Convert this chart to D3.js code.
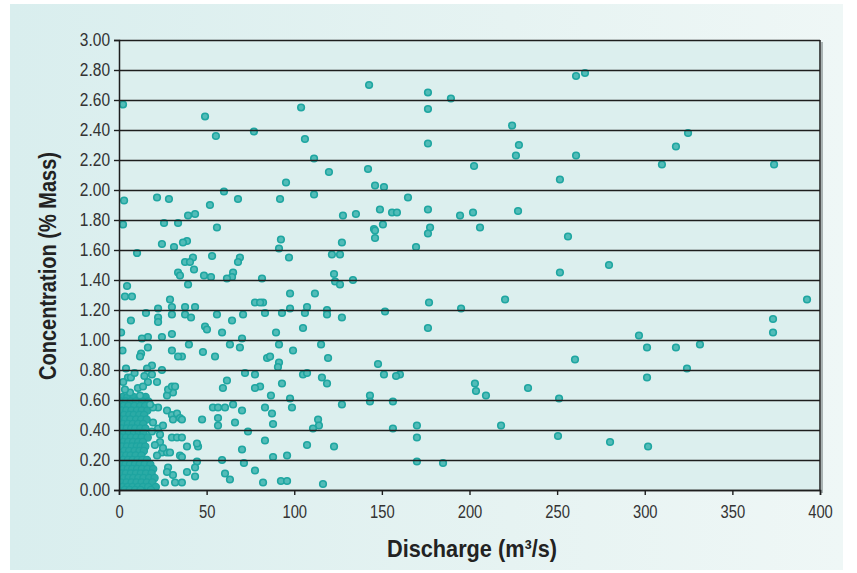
<!DOCTYPE html>
<html>
<head>
<meta charset="utf-8">
<script src="https://cdn.jsdelivr.net/npm/d3@7"></script>
<style>
  html, body { margin: 0; padding: 0; background: #ffffff; }
  svg { display: block; }
</style>
</head>
<body>
<svg id="chart" width="857" height="573"></svg>
<script>
// ---- data ----
const xTicks = [0, 50, 100, 150, 200, 250, 300, 350, 400];
const yTicks = [0, 0.2, 0.4, 0.6, 0.8, 1.0, 1.2, 1.4, 1.6, 1.8, 2.0, 2.2, 2.4, 2.6, 2.8, 3.0];
const xLabel = "Discharge (m\u00B3/s)";
const yLabel = "Concentration (% Mass)";

// scattered samples [discharge m3/s, concentration % mass]
const scattered = [
  [2.3,2.57],[49.1,2.49],[55.3,2.36],[77.0,2.39],[103.9,2.55],[106.1,2.34],[111.3,2.21],[119.8,2.12],
  [95.3,2.05],[142.7,2.70],[142.1,2.14],[146.1,2.03],[151.2,2.02],[59.9,1.99],[67.9,1.94],[51.9,1.90],
  [2.9,1.93],[21.7,1.95],[28.5,1.94],[91.9,1.94],[111.3,1.97],[164.9,1.95],[25.7,1.78],[33.7,1.78],
  [39.4,1.83],[43.4,1.84],[127.8,1.83],[135.2,1.84],[148.9,1.87],[155.8,1.85],[158.6,1.85],[150.6,1.77],
  [145.5,1.74],[55.9,1.75],[2.3,1.77],[176.3,2.65],[176.3,2.54],[189.4,2.61],[260.8,2.76],[265.9,2.78],
  [224.3,2.43],[228.2,2.30],[226.5,2.23],[260.8,2.23],[176.3,2.31],[202.6,2.16],[251.6,2.07],[324.7,2.38],
  [317.8,2.29],[309.8,2.17],[373.8,2.17],[176.3,1.87],[194.6,1.83],[202.0,1.85],[227.7,1.86],[177.5,1.75],
  [206.0,1.75],[176.3,1.71],[169.5,1.62],[256.2,1.69],[279.6,1.50],[251.6,1.45],[176.9,1.25],[195.2,1.21],
  [220.3,1.27],[392.6,1.27],[176.3,1.08],[296.7,1.03],[301.3,0.95],[317.8,0.95],[331.5,0.97],[373.2,1.14],
  [373.2,1.05],[260.2,0.87],[324.1,0.81],[301.3,0.75],[203.1,0.71],[233.4,0.68],[160.3,0.77],[203.7,0.66],
  [209.4,0.63],[251.1,0.61],[170.0,0.43],[170.0,0.35],[218.0,0.43],[250.5,0.36],[280.2,0.32],[301.9,0.29],
  [170.0,0.19],[184.9,0.18],
  [84.5,0.88],[91.3,0.85],[90.7,0.82],[119.3,0.88],[147.8,0.84],[151.2,0.77],[158.1,0.76],[105.0,0.77],
  [107.3,0.78],[115.8,0.75],[118.7,0.71],[93.0,0.71],[80.5,0.69],[86.7,0.63],[97.6,0.61],[127.2,0.57],
  [143.2,0.63],[143.2,0.59],[156.3,0.59],[83.3,0.55],[87.3,0.51],[98.7,0.55],[87.9,0.44],[113.6,0.47],
  [114.1,0.43],[110.7,0.41],[156.3,0.41],[83.3,0.33],[107.3,0.30],[122.7,0.29],[87.9,0.22],[95.9,0.23],
  [92.4,0.06],[95.9,0.06],[116.4,0.04],
  [146.1,1.73],[146.1,1.68],[92.4,1.67],[91.3,1.61],[127.2,1.65],[126.1,1.57],[121.5,1.57],[97.0,1.55],
  [81.6,1.41],[122.7,1.44],[123.3,1.39],[126.1,1.37],[133.5,1.40],[97.6,1.31],[111.8,1.31],[82.2,1.25],
  [83.3,1.18],[93.0,1.18],[97.6,1.21],[107.3,1.22],[106.1,1.18],[118.7,1.20],[118.7,1.17],[127.2,1.15],
  [151.8,1.19],[105.0,1.08],[89.6,1.05],[91.3,0.97],[99.3,0.93],[115.3,0.97],[86.2,0.89],
  [38.8,1.66],[36.5,1.65],[24.5,1.64],[31.4,1.62],[10.3,1.58],[37.7,1.52],[42.2,1.55],[40.5,1.52],
  [42.8,1.47],[33.7,1.45],[34.8,1.43],[53.1,1.56],[69.0,1.55],[67.9,1.52],[65.1,1.45],[64.5,1.42],
  [61.6,1.41],[48.5,1.43],[52.5,1.42],[39.4,1.37],[4.6,1.36],[3.4,1.29],[7.4,1.29],[29.1,1.27],
  [30.2,1.22],[22.3,1.21],[15.4,1.18],[37.7,1.22],[43.4,1.22],[37.7,1.17],[41.1,1.15],[30.2,1.17],
  [22.3,1.15],[22.3,1.12],[6.8,1.13],[55.9,1.17],[64.5,1.13],[70.8,1.17],[77.6,1.25],[80.5,1.25],
  [49.1,1.09],[50.2,1.07],[58.8,1.05],[30.2,1.04],[24.5,1.02],[16.5,1.02],[13.1,1.01],[70.2,1.01],
  [39.9,0.97],[47.9,0.92],[30.2,0.93],[35.9,0.89],[16.5,0.95],[12.6,0.91],[63.3,0.97],[69.0,0.95],
  [54.8,0.89],[2.0,0.93],[1.2,1.05],
  [71.9,0.78],[77.6,0.77],[61.6,0.73],[59.3,0.68],[77.6,0.68],[65.1,0.57],[70.2,0.53],[53.6,0.55],
  [56.5,0.55],[60.5,0.55],[47.4,0.47],[56.5,0.48],[56.5,0.43],[66.2,0.45],[73.6,0.39],[45.1,0.29],
  [44.5,0.31],[38.8,0.29],[70.2,0.27],[58.8,0.20],[44.5,0.19],[43.4,0.15],[38.8,0.12],[43.4,0.09],
  [71.3,0.18],[77.6,0.13],[60.5,0.11],[63.3,0.07],[82.2,0.05],[35.9,0.05],[28.0,0.15],[30.8,0.10],
  [27.4,0.12],[26.2,0.05],[32.0,0.05],[30.8,0.65],[27.4,0.63],[28.0,0.67],[30.2,0.69],[32.0,0.69],
  [27.4,0.53],[30.2,0.50],[33.1,0.51],[34.8,0.48],[30.8,0.47],[35.9,0.47],[30.2,0.35],[33.1,0.35],
  [35.9,0.35],[23.4,0.37],[23.4,0.32],[24.5,0.25],[27.4,0.25],[29.1,0.25],[25.1,0.28],[20.5,0.30],
  [21.7,0.23],[34.8,0.23],[35.9,0.22],[18.8,0.77],[21.7,0.72],[16.5,0.72],[24.5,0.80],[18.8,0.83],
  [16.0,0.81],[12.0,0.89],[33.7,0.89],[22.3,0.55],[19.4,0.55],[17.7,0.57],[19.4,0.45],[22.3,0.41],
  [18.8,0.39],[25.1,0.43],[5.1,0.75],[6.8,0.75],[10.8,0.68],[13.7,0.69],[12.0,0.63],[6.3,0.65],[3.4,0.67],
  [2.4,0.72],[8.9,0.78],[4.0,0.81],[14.5,0.76]
];

// dense low-discharge cluster near the origin
const cluster = [
  [2.1,0.62],[4.8,0.62],[8.3,0.62],[11.9,0.62],[15.2,0.62],
  [1.2,0.59],[3.9,0.59],[6.7,0.59],[9.6,0.59],[13.4,0.59],[16.8,0.59],
  [2.6,0.56],[5.4,0.56],[8.8,0.56],[12.1,0.56],[14.9,0.56],
  [1.4,0.53],[4.2,0.53],[7.1,0.53],[10.3,0.53],[13.0,0.53],[16.2,0.53],
  [2.9,0.50],[5.9,0.50],[8.4,0.50],[11.6,0.50],[14.3,0.50],
  [1.1,0.47],[3.6,0.47],[6.5,0.47],[9.8,0.47],[12.7,0.47],[15.8,0.47],
  [2.3,0.44],[5.1,0.44],[7.9,0.44],[10.9,0.44],[13.8,0.44],
  [1.5,0.41],[4.4,0.41],[7.0,0.41],[9.3,0.41],[12.2,0.41],[15.1,0.41],
  [2.8,0.38],[5.6,0.38],[8.6,0.38],[11.3,0.38],[14.0,0.38],
  [1.2,0.35],[4.0,0.35],[6.9,0.35],[9.9,0.35],[12.9,0.35],[16.4,0.35],
  [2.5,0.32],[5.3,0.32],[8.1,0.32],[11.0,0.32],[13.6,0.32],
  [1.6,0.29],[4.6,0.29],[7.4,0.29],[10.2,0.29],[12.4,0.29],[15.0,0.29],
  [3.0,0.26],[5.8,0.26],[8.9,0.26],[11.7,0.26],[14.2,0.26],
  [1.3,0.23],[4.1,0.23],[6.6,0.23],[9.5,0.23],[12.8,0.23],
  [2.4,0.20],[5.2,0.20],[7.8,0.20],[10.6,0.20],[13.3,0.20],[16.0,0.20],
  [1.0,0.17],[3.7,0.17],[6.3,0.17],[9.1,0.17],[11.8,0.17],[14.6,0.17],[17.9,0.17],
  [2.2,0.14],[5.0,0.14],[7.6,0.14],[10.4,0.14],[13.1,0.14],[16.3,0.14],[19.5,0.14],
  [1.4,0.11],[3.9,0.11],[6.8,0.11],[9.7,0.11],[12.5,0.11],[15.4,0.11],[18.6,0.11],
  [2.7,0.08],[5.5,0.08],[8.2,0.08],[11.1,0.08],[14.0,0.08],[17.2,0.08],[20.3,0.08],
  [1.1,0.05],[4.3,0.05],[7.2,0.05],[10.0,0.05],[12.9,0.05],[15.9,0.05],[19.0,0.05],
  [2.0,0.02],[4.9,0.02],[7.7,0.02],[10.8,0.02],[13.7,0.02],[16.7,0.02],[21.0,0.02],
  [3.3,0.00],[6.1,0.00],[9.2,0.00],[12.3,0.00],[18.2,0.00]
];

// ---- drawing ----
const svg = d3.select("#chart");
const plot = {left: 119, right: 820, top: 40, bottom: 490};
const x = d3.scaleLinear().domain([0, 400]).range([plot.left, plot.right]);
const y = d3.scaleLinear().domain([0, 3]).range([plot.bottom, plot.top]);
const FONT = "'Liberation Sans', Arial, Helvetica, sans-serif";

// horizontally condense a text element to mimic a narrow typeface
function condense(sel, ratio) {
  sel.each(function() {
    const w = this.getComputedTextLength();
    d3.select(this).attr("textLength", w * ratio).attr("lengthAdjust", "spacingAndGlyphs");
  });
}

const defs = svg.append("defs");
const grad = defs.append("linearGradient").attr("id", "panelGrad")
  .attr("x1", "0%").attr("x2", "100%").attr("y1", "0%").attr("y2", "0%");
grad.append("stop").attr("offset", "0%").attr("stop-color", "#d9eeee");
grad.append("stop").attr("offset", "60%").attr("stop-color", "#e6f3f2");
grad.append("stop").attr("offset", "100%").attr("stop-color", "#eff7f6");
defs.append("clipPath").attr("id", "plotClip").append("rect")
  .attr("x", plot.left).attr("y", plot.top - 1)
  .attr("width", plot.right - plot.left).attr("height", plot.bottom - plot.top + 1);

svg.append("rect").attr("x", 10).attr("y", 4).attr("width", 833).attr("height", 566)
  .attr("fill", "url(#panelGrad)");

svg.append("rect").attr("x", plot.left).attr("y", plot.top)
  .attr("width", plot.right - plot.left).attr("height", plot.bottom - plot.top)
  .attr("fill", "#dcefee");

// points
const pts = svg.append("g").attr("clip-path", "url(#plotClip)");
pts.selectAll("circle.c").data(cluster).join("circle").attr("class", "c")
  .attr("cx", d => x(d[0])).attr("cy", d => y(d[1])).attr("r", 3.6)
  .attr("fill", "#2aaaa5").attr("stroke", "#1ea4a0").attr("stroke-width", 1.2);
pts.selectAll("circle.s").data(scattered).join("circle").attr("class", "s")
  .attr("cx", d => x(d[0])).attr("cy", d => y(d[1])).attr("r", 3.3)
  .attr("fill", "#52bcb8").attr("stroke", "#1fa6a1").attr("stroke-width", 1.6);

// grid lines
svg.append("g").attr("transform", `translate(${plot.left},0)`)
  .call(d3.axisLeft(y).tickValues(yTicks).tickSize(-(plot.right - plot.left)).tickFormat(""))
  .call(g => g.select(".domain").remove())
  .call(g => g.selectAll(".tick line").attr("stroke", "#1e1e1e").attr("stroke-width", 1.4));

// right border with shadow
svg.append("line").attr("x1", plot.right + 2).attr("x2", plot.right + 2)
  .attr("y1", plot.top + 2).attr("y2", plot.bottom + 3).attr("stroke", "#a9b3b3").attr("stroke-width", 2);
svg.append("line").attr("x1", plot.right).attr("x2", plot.right)
  .attr("y1", plot.top).attr("y2", plot.bottom).attr("stroke", "#1e1e1e").attr("stroke-width", 1.5);

// y axis
svg.append("g").attr("transform", `translate(${plot.left},0)`)
  .call(d3.axisLeft(y).tickValues(yTicks).tickSize(5).tickPadding(4).tickFormat(d3.format(".2f")))
  .call(g => g.select(".domain").attr("stroke", "#1e1e1e").attr("stroke-width", 1.5))
  .call(g => g.selectAll(".tick line").attr("stroke", "#1e1e1e").attr("stroke-width", 1.4))
  .call(g => g.selectAll(".tick text").attr("fill", "#333").attr("font-size", 18).attr("font-family", FONT))
  .call(g => condense(g.selectAll(".tick text"), 0.86));

// x axis
svg.append("g").attr("transform", `translate(0,${plot.bottom})`)
  .call(d3.axisBottom(x).tickValues(xTicks).tickSize(5).tickPadding(10).tickFormat(d3.format("d")))
  .call(g => g.select(".domain").attr("stroke", "#1e1e1e").attr("stroke-width", 1.5))
  .call(g => g.selectAll(".tick line").attr("stroke", "#1e1e1e").attr("stroke-width", 1.4))
  .call(g => g.selectAll(".tick text").attr("fill", "#333").attr("font-size", 18).attr("font-family", FONT))
  .call(g => condense(g.selectAll(".tick text"), 0.82));

// titles
svg.append("text").attr("x", 472).attr("y", 557).attr("text-anchor", "middle")
  .attr("font-family", FONT).attr("font-weight", "bold")
  .attr("font-size", 24).attr("fill", "#222")
  .attr("textLength", 170).attr("lengthAdjust", "spacingAndGlyphs").text(xLabel);
svg.append("text").attr("transform", "translate(56,266) rotate(-90)").attr("text-anchor", "middle")
  .attr("font-family", FONT).attr("font-weight", "bold")
  .attr("font-size", 23.5).attr("fill", "#222")
  .attr("textLength", 228).attr("lengthAdjust", "spacingAndGlyphs").text(yLabel);
</script>
</body>
</html>
